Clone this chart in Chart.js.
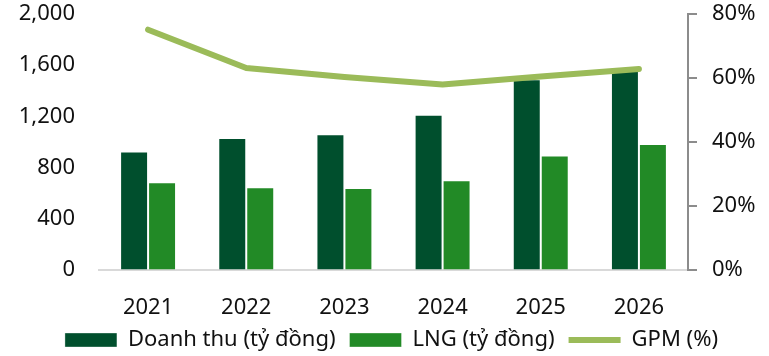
<!DOCTYPE html>
<html lang="vi">
<head>
    <meta charset="UTF-8">
    <title>Doanh thu, LNG và GPM</title>
    <script src="https://cdn.jsdelivr.net/npm/chart.js"></script>
    <style>
        html, body {
            margin: 0;
            padding: 0;
            background: #fff;
        }
        #wrap {
            width: 769px;
            height: 356px;
        }
    </style>
</head>
<body>
    <div id="wrap"><canvas id="chart"></canvas></div>

    <script>
        const years = ['2021', '2022', '2023', '2024', '2025', '2026'];
        const revenue = [925, 1032, 1061, 1212, 1490, 1585];   // Doanh thu (tỷ đồng)
        const grossProfit = [686, 647, 641, 701, 894, 985];     // LNG (tỷ đồng)
        const gpm = [75.1, 63.1, 60.3, 58.0, 60.5, 62.8];       // GPM (%)

        const leftTicks = [0, 400, 800, 1200, 1600, 2000];
        const rightTicks = [0, 20, 40, 60, 80];

        const FONT = { family: '"Noto Sans", "Open Sans", sans-serif', size: 22 };

        new Chart(document.getElementById('chart'), {
            data: {
                labels: years,
                datasets: [
                    {
                        type: 'bar',
                        label: 'Doanh thu (tỷ đồng)',
                        data: revenue,
                        yAxisID: 'y',
                        backgroundColor: '#004F2D',
                        borderColor: 'rgba(255,255,255,0.35)',
                        borderWidth: 1,
                        pointStyle: 'rect',
                        barPercentage: 1,
                        categoryPercentage: 0.57,
                        order: 1
                    },
                    {
                        type: 'bar',
                        label: 'LNG (tỷ đồng)',
                        data: grossProfit,
                        yAxisID: 'y',
                        backgroundColor: '#228A26',
                        borderColor: 'rgba(255,255,255,0.35)',
                        borderWidth: 1,
                        pointStyle: 'rect',
                        barPercentage: 1,
                        categoryPercentage: 0.57,
                        order: 2
                    },
                    {
                        type: 'line',
                        label: 'GPM (%)',
                        data: gpm,
                        yAxisID: 'y1',
                        borderColor: '#9BBB59',
                        backgroundColor: '#9BBB59',
                        borderWidth: 6,
                        borderCapStyle: 'round',
                        borderJoinStyle: 'round',
                        pointRadius: 0,
                        pointStyle: 'line',
                        tension: 0,
                        order: 0
                    }
                ]
            },
            options: {
                responsive: true,
                maintainAspectRatio: false,
                animation: false,
                layout: {
                    padding: { top: 14, left: 14, right: 0, bottom: -5 }
                },
                plugins: {
                    tooltip: { enabled: false },
                    legend: {
                        position: 'bottom',
                        labels: {
                            usePointStyle: true,
                            pointStyleWidth: 52,
                            boxHeight: 14,
                            padding: 14,
                            color: '#111',
                            font: FONT,
                            sort: (a, b) => a.datasetIndex - b.datasetIndex
                        }
                    }
                },
                scales: {
                    x: {
                        grid: { display: false },
                        border: { display: true, color: '#d9d9d9', width: 2 },
                        ticks: { color: '#111', font: FONT, padding: 17, maxRotation: 0 },
                        afterFit: scale => { scale.height = 45; }
                    },
                    y: {
                        position: 'left',
                        min: 0,
                        max: 2000,
                        // invisible tick marks keep the labels away from the plot
                        grid: {
                            display: true,
                            drawOnChartArea: false,
                            tickLength: 24,
                            color: 'rgba(0,0,0,0)'
                        },
                        border: { display: false },
                        afterBuildTicks: scale => {
                            scale.ticks = leftTicks.map(v => ({ value: v }));
                        },
                        ticks: {
                            color: '#111',
                            font: FONT,
                            padding: 0,
                            callback: v => v.toLocaleString('en-US')
                        },
                        afterFit: scale => { scale.width = 85; }
                    },
                    y1: {
                        position: 'right',
                        min: 0,
                        max: 80,
                        grid: {
                            display: true,
                            drawOnChartArea: false,
                            drawTicks: true,
                            tickLength: 24,
                            tickBorderDash: [8, 40],
                            color: '#8c8c8c',
                            lineWidth: 2
                        },
                        border: { display: true, color: '#8c8c8c', width: 2 },
                        afterBuildTicks: scale => {
                            scale.ticks = rightTicks.map(v => ({ value: v }));
                        },
                        ticks: {
                            color: '#111',
                            font: FONT,
                            padding: 0,
                            callback: v => v + '%'
                        },
                        afterFit: scale => { scale.width = 81; }
                    }
                }
            }
        });
    </script>
</body>
</html>
